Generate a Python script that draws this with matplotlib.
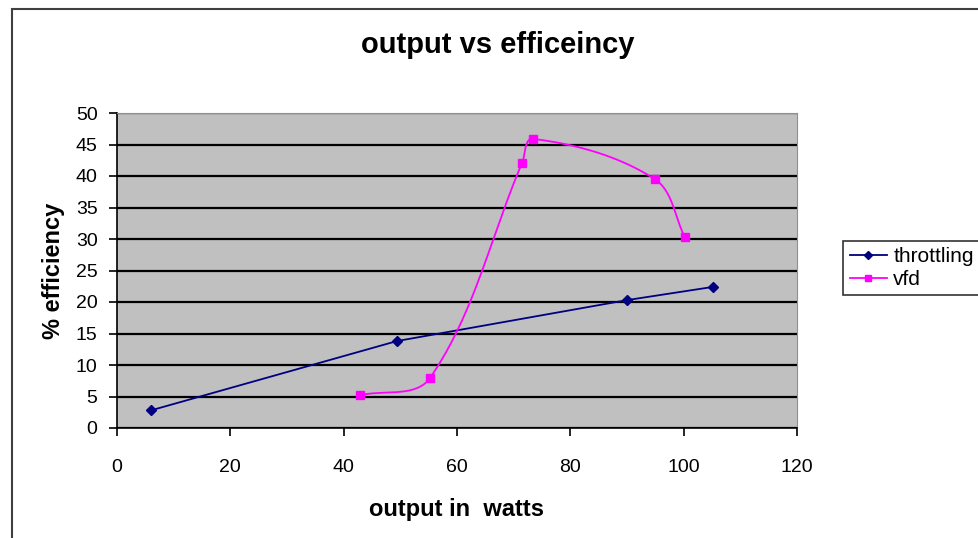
import numpy as np
import matplotlib
matplotlib.use('Agg')
import matplotlib.pyplot as plt
from matplotlib.patches import Rectangle

plt.rcParams['font.family'] = ['Liberation Sans', 'DejaVu Sans']

# data
thr_x = [6, 49.4, 90, 105.2]
thr_y = [2.8, 13.8, 20.3, 22.4]
vfd_x = [42.9, 55.2, 71.5, 73.4, 94.9, 100.2]
vfd_y = [5.2, 7.9, 42.1, 45.9, 39.5, 30.3]


def smooth(xs, ys, sx=5.667, sy=6.3, n=40):
    # smoothed line like Excel: bezier pieces, tangent along (p2-p0),
    # handle length a third of each adjoining segment (in pixel space)
    p = np.column_stack([np.array(xs) * sx, np.array(ys) * sy])
    out = [p[0]]
    m = len(p)
    tang = []
    for i in range(m):
        d = p[min(i + 1, m - 1)] - p[max(i - 1, 0)]
        tang.append(d / np.linalg.norm(d))
    for i in range(m - 1):
        p1, p2 = p[i], p[i + 1]
        L = np.linalg.norm(p2 - p1) / 3
        c1 = p1 + tang[i] * L
        c2 = p2 - tang[i + 1] * L
        t = np.linspace(0, 1, n)[1:, None]
        seg = ((1 - t) ** 3 * p1 + 3 * (1 - t) ** 2 * t * c1
               + 3 * (1 - t) * t ** 2 * c2 + t ** 3 * p2)
        out.extend(seg)
    out = np.array(out)
    return out[:, 0] / sx, out[:, 1] / sy


fig = plt.figure(figsize=(9.79, 5.38), dpi=100)
ax = fig.add_axes([117 / 979, 1 - 428 / 538, 680 / 979, 315 / 538])
ax.set_facecolor('#c0c0c0')

ax.plot(thr_x, thr_y, color='#000080', lw=1.3)
ax.plot(thr_x, thr_y, ls='none', marker='D', ms=5, color='#000080')
cx, cy = smooth(vfd_x, vfd_y)
ax.plot(cx, cy, color='#ff00ff', lw=1.3)
ax.plot(vfd_x, vfd_y, ls='none', marker='s', ms=6, color='#ff00ff')

# legend proxies
ax.plot([], [], color='#000080', marker='D', ms=4, lw=1.3, label='throttling')
ax.plot([], [], color='#ff00ff', marker='s', ms=4, lw=1.3, label='vfd')

ax.set_xlim(0, 120)
ax.set_ylim(0, 50)
ax.set_xticks(np.arange(0, 121, 20))
ax.set_yticks(np.arange(0, 51, 5))
ax.yaxis.grid(True, color='black', lw=1.6)
ax.set_axisbelow(True)
ax.tick_params(direction='out', length=6, width=1.2, labelsize=14,
               colors='black')
ax.tick_params(axis='x', pad=16)
ax.tick_params(axis='y', pad=8)
for s in ['top', 'right']:
    ax.spines[s].set_color('#909090')
for s in ['left', 'bottom']:
    ax.spines[s].set_color('black')
    ax.spines[s].set_linewidth(1.2)

fig.text(498 / 979, 1 - 45 / 538, 'output vs efficeincy', fontsize=21,
         fontweight='bold', ha='center', va='center')
ax.set_xlabel('output in  watts', fontsize=17, fontweight='bold', labelpad=16)
ax.set_ylabel('% efficiency', fontsize=17, fontweight='bold', labelpad=8)

h, l = ax.get_legend_handles_labels()
leg = fig.legend(h[-2:], l[-2:], loc='center left',
                 bbox_to_anchor=(833 / 979, 1 - 268 / 538), fontsize=15,
                 frameon=True, fancybox=False, edgecolor='black',
                 handlelength=1.8, handletextpad=0.3, borderpad=0.3,
                 labelspacing=0.2)
leg.get_frame().set_linewidth(1.2)

fig.patches.append(Rectangle((12 / 979, -0.1), 2, 1 - 9 / 538 + 0.1,
                             transform=fig.transFigure, fill=False,
                             edgecolor='#404040', lw=1.5))

fig.savefig('out.png', dpi=100)
